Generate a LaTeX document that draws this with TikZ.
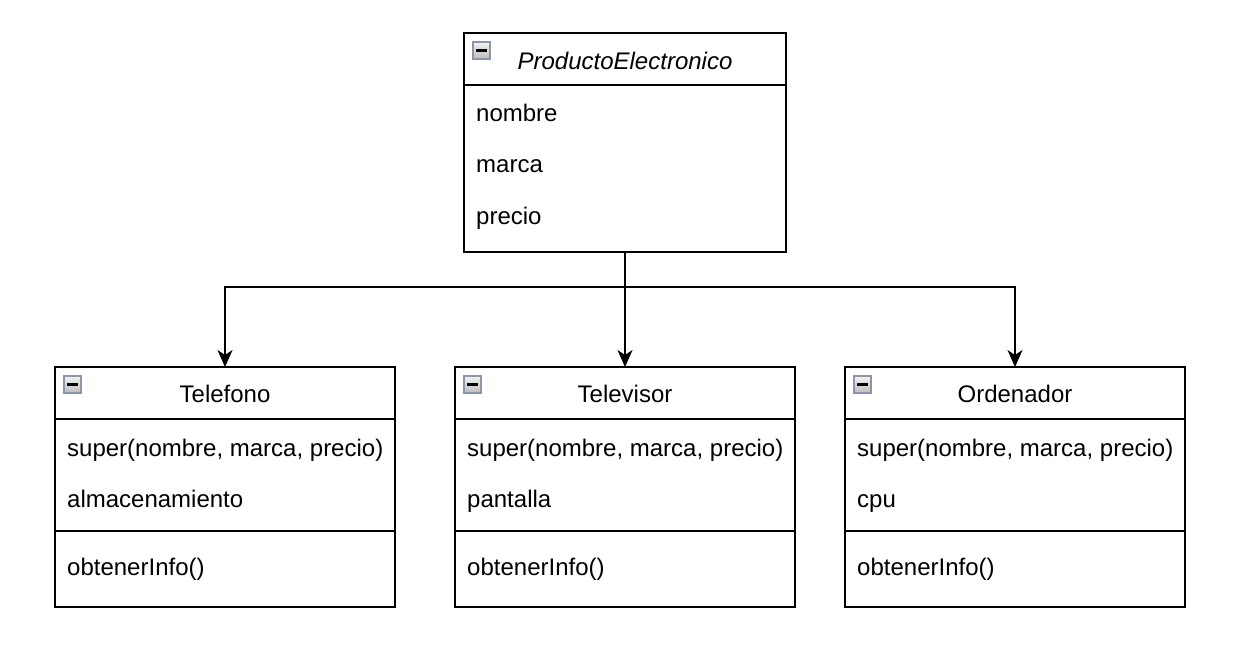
\documentclass[tikz,border=0pt]{standalone}
\usepackage{fontspec}
\setmainfont{Liberation Sans}
\usetikzlibrary{arrows.meta}
\definecolor{iconborder}{HTML}{8C96A6}
\definecolor{icontop}{HTML}{F2F2F2}
\definecolor{iconbot}{HTML}{BDBDBD}
\tikzset{
  cls/.style={draw=black, line width=2pt, fill=white, inner sep=0pt, outer sep=0pt, anchor=north west},
  txt/.style={anchor=base west, inner sep=0pt, font=\fontsize{24}{28}\selectfont},
  ttl/.style={anchor=base, inner sep=0pt, font=\fontsize{24}{28}\selectfont},
  sep/.style={line width=2pt},
  arr/.style={line width=2pt, -{Stealth[length=17pt,width=15pt,inset=5pt]}},
  icon/.style={anchor=north west, minimum size=17pt, inner sep=0pt, outer sep=0pt,
    draw=iconborder, line width=1.5pt, top color=icontop, bottom color=iconbot,
    path picture={\fill[black] ([xshift=-5.5pt,yshift=-1.3pt]path picture bounding box.center) rectangle ++(11pt,2.6pt);}}
}
\begin{document}
\begin{tikzpicture}[x=1pt,y=-1pt]
\useasboundingbox[fill=white] (0,0) rectangle (1240,662);

% ProductoElectronico
\node[cls, minimum width=322pt, minimum height=219pt] (pe) at (464,33) {};
\draw[sep] ([yshift=-52pt]pe.north west) -- ([yshift=-52pt]pe.north east);
\node[icon] (pei) at (473,42) {};
\node[ttl] (pet) at (625,69) {\itshape ProductoElectronico};
\node[txt] (pe1) at (476,121) {nombre};
\node[txt] (pe2) at (476,172) {marca};
\node[txt] (pe3) at (476,224) {precio};

% Telefono
\node[cls, minimum width=340pt, minimum height=240pt] (tel) at (55,367) {};
\draw[sep] ([yshift=-52pt]tel.north west) -- ([yshift=-52pt]tel.north east);
\draw[sep] ([yshift=-164pt]tel.north west) -- ([yshift=-164pt]tel.north east);
\node[icon] (teli) at (64,376) {};
\node[ttl] (telt) at (225,402) {Telefono};
\node[txt] (tel1) at (67,456) {super(nombre, marca, precio)};
\node[txt] (tel2) at (67,507) {almacenamiento};
\node[txt] (tel3) at (67,575) {obtenerInfo()};

% Televisor
\node[cls, minimum width=340pt, minimum height=240pt] (tv) at (455,367) {};
\draw[sep] ([yshift=-52pt]tv.north west) -- ([yshift=-52pt]tv.north east);
\draw[sep] ([yshift=-164pt]tv.north west) -- ([yshift=-164pt]tv.north east);
\node[icon] (tvi) at (464,376) {};
\node[ttl] (tvt) at (625,402) {Televisor};
\node[txt] (tv1) at (467,456) {super(nombre, marca, precio)};
\node[txt] (tv2) at (467,507) {pantalla};
\node[txt] (tv3) at (467,575) {obtenerInfo()};

% Ordenador
\node[cls, minimum width=340pt, minimum height=240pt] (ord) at (845,367) {};
\draw[sep] ([yshift=-52pt]ord.north west) -- ([yshift=-52pt]ord.north east);
\draw[sep] ([yshift=-164pt]ord.north west) -- ([yshift=-164pt]ord.north east);
\node[icon] (ordi) at (854,376) {};
\node[ttl] (ordt) at (1015,402) {Ordenador};
\node[txt] (ord1) at (857,456) {super(nombre, marca, precio)};
\node[txt] (ord2) at (857,507) {cpu};
\node[txt] (ord3) at (857,575) {obtenerInfo()};

% connectors
\coordinate (j) at (625,287);
\draw[arr] (pe.south) -- (tv.north);
\draw[arr] (pe.south) |- (j) -| (tel.north);
\draw[arr] (pe.south) |- (j) -| (ord.north);
\end{tikzpicture}
\end{document}
